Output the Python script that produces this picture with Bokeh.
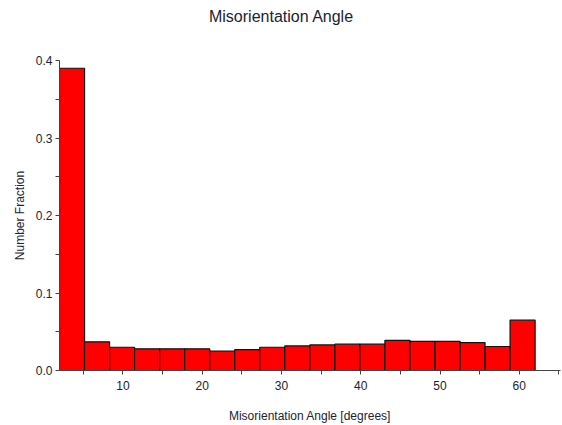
from bokeh.plotting import figure
from bokeh.models import FixedTicker, Range1d, PrintfTickFormatter, LinearAxis
from bokeh.embed import file_html
from bokeh.resources import INLINE

# Data
bin_edges = [2.00, 5.16, 8.32, 11.47, 14.63, 17.79, 20.95, 24.11, 27.26, 30.42,
             33.58, 36.74, 39.89, 43.05, 46.21, 49.37, 52.53, 55.68, 58.84, 62.00]
fractions = [0.390, 0.037, 0.030, 0.028, 0.028, 0.028, 0.025, 0.027, 0.030, 0.0317,
             0.033, 0.034, 0.034, 0.039, 0.0376, 0.0376, 0.036, 0.031, 0.065]
x_major_ticks = [10, 20, 30, 40, 50, 60]
x_minor_ticks = [5, 15, 25, 35, 45, 55, 65]
y_major_ticks = [0.0, 0.1, 0.2, 0.3, 0.4]
y_minor_ticks = [0.05, 0.15, 0.25, 0.35]
title_text = "Misorientation Angle"
title_anchor = 30  # x-position (degrees) under the centre of the page title

FONT = "Liberation Sans"
TXT = "#222233"

p = figure(width=562, height=425, output_backend="svg", toolbar_location=None,
           x_range=Range1d(2.0, 65.2), y_range=Range1d(0.0, 0.4),
           min_border_left=59, min_border_right=2, min_border_top=60, min_border_bottom=52)

p.quad(left=bin_edges[:-1], right=bin_edges[1:], bottom=0, top=fractions,
       fill_color="#ff0000", line_color="#111111", line_width=1.2)

p.title.visible = False

# Page title drawn as the single tick label of a bare axis above the frame
top_axis = LinearAxis(ticker=FixedTicker(ticks=[title_anchor], minor_ticks=[]),
                      major_label_overrides={title_anchor: title_text},
                      axis_line_color=None, major_tick_line_color=None,
                      minor_tick_line_color=None, major_tick_out=0, minor_tick_out=0,
                      major_tick_in=0, minor_tick_in=0,
                      major_label_standoff=36, major_label_text_font=FONT,
                      major_label_text_font_size="16px", major_label_text_color=TXT)
p.add_layout(top_axis, "above")

p.xgrid.visible = False
p.ygrid.visible = False
p.outline_line_color = None

bottom_axis = p.below[0]
bottom_axis.ticker = FixedTicker(ticks=x_major_ticks, minor_ticks=x_minor_ticks)
p.yaxis.ticker = FixedTicker(ticks=y_major_ticks, minor_ticks=y_minor_ticks)
p.yaxis.formatter = PrintfTickFormatter(format="%.1f")

for ax in (bottom_axis, p.yaxis[0]):
    ax.major_label_text_font = FONT
    ax.major_label_text_font_size = "12px"
    ax.major_label_text_color = TXT
    ax.axis_label_text_font = FONT
    ax.axis_label_text_font_size = "12px"
    ax.axis_label_text_font_style = "normal"
    ax.axis_label_text_color = TXT
    ax.axis_line_color = "#444444"
    ax.major_tick_line_color = "#444444"
    ax.minor_tick_line_color = "#444444"
    ax.major_tick_in = 0
    ax.minor_tick_in = 0
    ax.major_tick_out = 4
    ax.minor_tick_out = 4

bottom_axis.axis_label = "Misorientation Angle [degrees]"
p.yaxis.axis_label = "Number Fraction"
bottom_axis.major_label_standoff = 6
p.yaxis.major_label_standoff = 3
bottom_axis.axis_label_standoff = 16
p.yaxis.axis_label_standoff = 6

open("out.html", "w").write(file_html(p, INLINE))
